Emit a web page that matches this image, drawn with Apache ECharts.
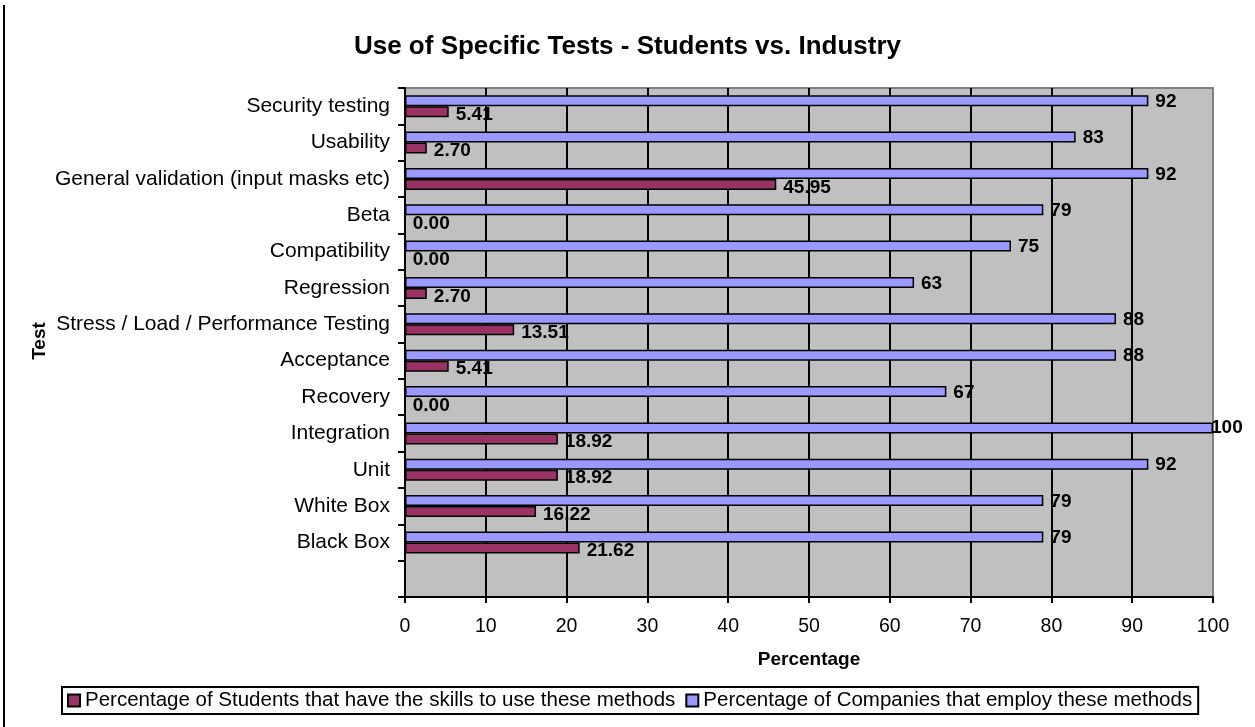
<!DOCTYPE html>
<html>
<head>
<meta charset="utf-8">
<script src="https://cdn.jsdelivr.net/npm/echarts@6/dist/echarts.min.js"></script>
<style>
html,body{margin:0;padding:0;background:#fff;}
#chart{width:1255px;height:727px;}
</style>
</head>
<body>
<div id="chart"></div>
<script>
// Categories listed bottom-to-top (first = bottom slot, which is empty in the reference)
var categories = ['', 'Black Box', 'White Box', 'Unit', 'Integration', 'Recovery', 'Acceptance',
  'Stress / Load / Performance Testing', 'Regression', 'Compatibility', 'Beta',
  'General validation (input masks etc)', 'Usability', 'Security testing'];
var studentValues = [null, 21.62, 16.22, 18.92, 18.92, 0, 5.41, 13.51, 2.70, 0, 0, 45.95, 2.70, 5.41];
var companyValues = [null, 79, 79, 92, 100, 67, 88, 88, 63, 75, 79, 92, 83, 92];
var xTicks = [0, 10, 20, 30, 40, 50, 60, 70, 80, 90, 100];
var seriesNames = ['Percentage of Students that have the skills to use these methods',
                   'Percentage of Companies that employ these methods'];
var yAxisTitle = 'Test';

var FONT = "'Liberation Sans', Arial, sans-serif";
var chart = echarts.init(document.getElementById('chart'));

function companyData() {
  return companyValues.map(function (v) {
    if (v === xTicks[xTicks.length - 1]) {
      return { value: v, label: { offset: [-9, 0] } };
    }
    return v;
  });
}

chart.setOption({
  animation: false,
  backgroundColor: '#ffffff',
  textStyle: { fontFamily: FONT, color: '#000' },
  title: {
    text: 'Use of Specific Tests - Students vs. Industry',
    left: 'center',
    top: 29,
    textStyle: { fontFamily: FONT, fontSize: 26, fontWeight: 'bold', color: '#000' }
  },
  legend: {
    left: 62,
    top: 687,
    orient: 'horizontal',
    icon: 'rect',
    itemWidth: 12,
    itemHeight: 12,
    itemGap: 10,
    padding: [3, 6, 3, 5],
    borderColor: '#000',
    borderWidth: 2,
    textStyle: { fontFamily: FONT, fontSize: 20.5, color: '#000' },
    data: seriesNames
  },
  grid: {
    left: 405, right: 42, top: 88, bottom: 130,
    show: true,
    backgroundColor: '#C0C0C0',
    borderColor: '#808080',
    borderWidth: 2
  },
  xAxis: {
    type: 'value',
    min: xTicks[0],
    max: xTicks[xTicks.length - 1],
    interval: 10,
    name: 'Percentage',
    nameLocation: 'middle',
    nameGap: 53,
    nameTextStyle: { fontFamily: FONT, fontSize: 19, fontWeight: 'bold', color: '#000' },
    axisLine: { show: true, lineStyle: { color: '#000', width: 2 } },
    axisTick: { show: true, length: 6, lineStyle: { color: '#000', width: 2 } },
    axisLabel: { fontFamily: FONT, fontSize: 19.5, color: '#000', margin: 20 },
    splitLine: { show: true, showMaxLine: false, lineStyle: { color: '#000', width: 2 } }
  },
  yAxis: {
    type: 'category',
    data: categories,
    axisLine: { show: true, lineStyle: { color: '#000', width: 2 } },
    axisTick: { show: true, length: 7, lineStyle: { color: '#000', width: 2 } },
    axisLabel: { fontFamily: FONT, fontSize: 21, color: '#000', margin: 15 },
    splitLine: { show: false }
  },
  series: [
    {
      name: seriesNames[1],
      type: 'bar',
      data: companyData(),
      barWidth: 11,
      barGap: '0%',
      itemStyle: { color: '#9999FF', borderColor: '#000', borderWidth: 1.5 },
      label: {
        show: true, position: 'right', distance: 7, offset: [0, 1],
        fontFamily: FONT, fontSize: 19, fontWeight: 'bold', color: '#000',
        formatter: function (p) { return p.value == null ? '' : Number(p.value).toFixed(0); }
      }
    },
    {
      name: seriesNames[0],
      type: 'bar',
      data: studentValues,
      barWidth: 11,
      barGap: '0%',
      itemStyle: { color: '#993366', borderColor: '#000', borderWidth: 1.5 },
      label: {
        show: true, position: 'right', distance: 7, offset: [0, 3],
        fontFamily: FONT, fontSize: 19, fontWeight: 'bold', color: '#000',
        formatter: function (p) { return p.value == null ? '' : Number(p.value).toFixed(2); }
      }
    }
  ],
  graphic: [
    { type: 'line', shape: { x1: 4, y1: 5, x2: 4, y2: 727 }, style: { stroke: '#000', lineWidth: 2 } },
    {
      type: 'text', x: 40, y: 341, rotation: Math.PI / 2,
      style: {
        text: yAxisTitle, fontFamily: FONT, fontSize: 19, fontWeight: 'bold', fill: '#000',
        align: 'center', verticalAlign: 'middle'
      }
    }
  ]
});
</script>
</body>
</html>
